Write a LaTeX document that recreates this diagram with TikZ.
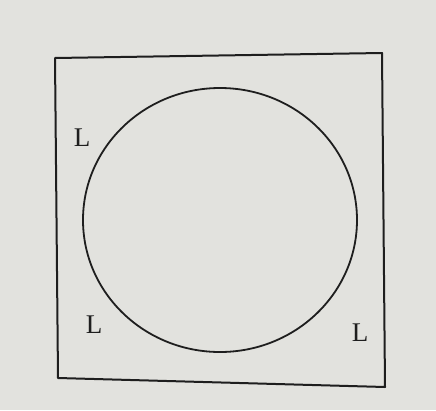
\documentclass[tikz,border=0pt]{standalone}
\usepackage{fontspec}
\setmainfont{Liberation Serif}
\usepackage{tikz}
\usetikzlibrary{positioning}
\definecolor{paper}{RGB}{226,226,222}
\definecolor{ink}{RGB}{30,30,30}
\tikzset{
  outline/.style={draw=ink,line width=2pt},
  lbl/.style={text=ink,inner sep=0pt,font=\fontsize{27}{30}\selectfont}
}
\begin{document}
\begin{tikzpicture}[x=1pt,y=-1pt]
% page
\fill[paper] (0,0) rectangle (436,410);
\useasboundingbox (0,0) rectangle (436,410);
% outer square (slightly skewed as photographed)
\coordinate (tl) at (55,58);
\coordinate (tr) at (382,53);
\coordinate (br) at (385,387);
\coordinate (bl) at (58,378);
\draw[outline,line join=round] (tl) -- (tr) -- (br) -- (bl) -- cycle;
% circle
\draw[outline,line width=1.8pt] (220,220) ellipse [x radius=137,y radius=132];
% labels
\node[lbl] (ltop) at (82,138) {L};
\node[lbl] (lleft) at (94,325) {L};
\node[lbl] (lright) at (360,333) {L};
\end{tikzpicture}
\end{document}
